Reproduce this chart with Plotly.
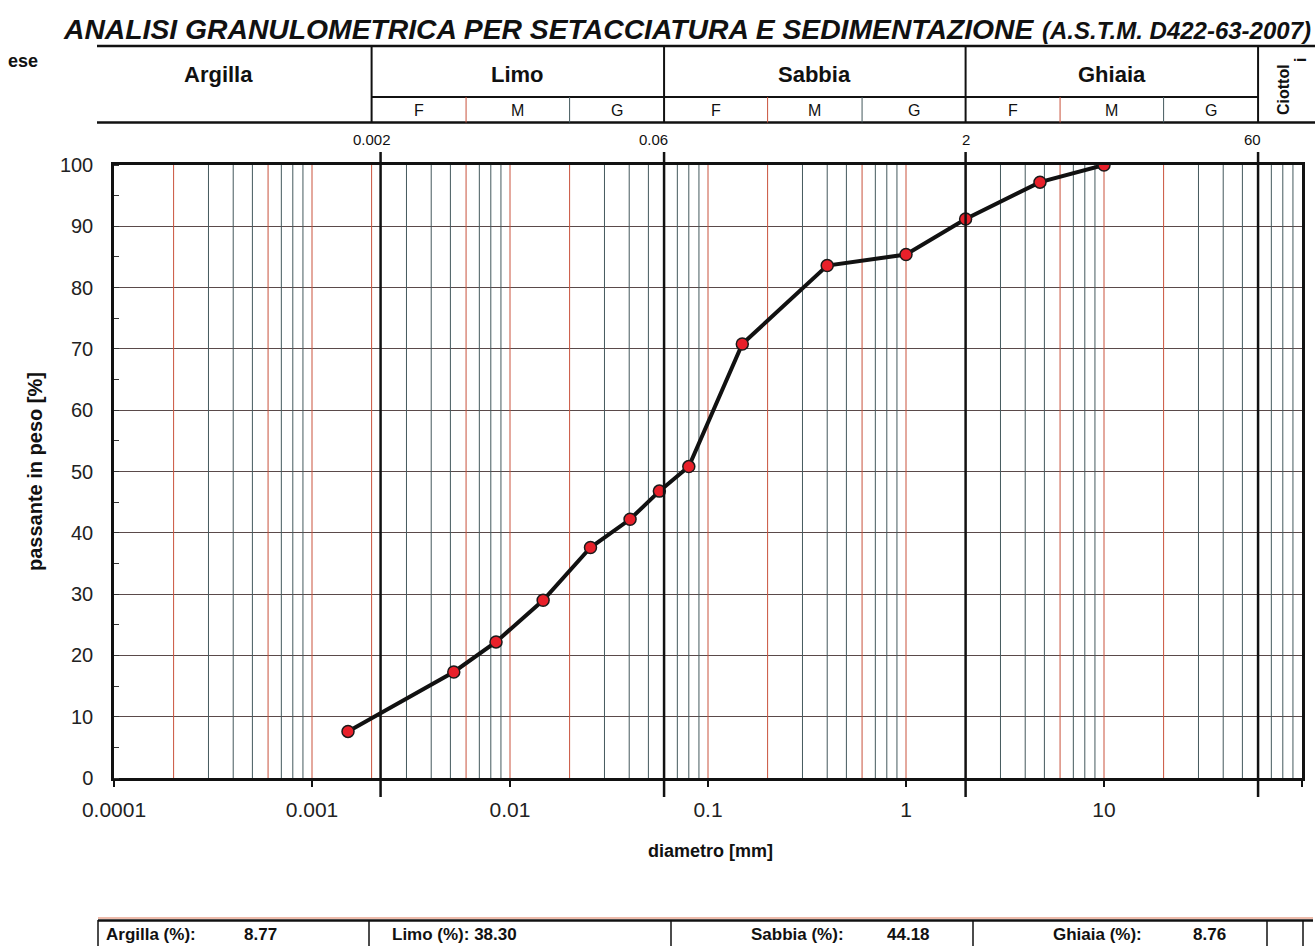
import math
import plotly.graph_objects as go

# ---------------- data ----------------
diam_mm = [0.00152, 0.0052, 0.0085, 0.0147, 0.0255, 0.0404, 0.0568, 0.080,
           0.149, 0.40, 1.0, 2.0, 4.75, 10.0]
passing_pct = [7.6, 17.3, 22.2, 29.0, 37.6, 42.2, 46.8, 50.8,
               70.8, 83.6, 85.4, 91.2, 97.2, 100.0]

x_tick_vals = [0.0001, 0.001, 0.01, 0.1, 1, 10, 100]
x_tick_text = ["0.0001", "0.001", "0.01", "0.1", "1", "10", "100"]
y_tick_vals = [0, 10, 20, 30, 40, 50, 60, 70, 80, 90, 100]

class_names = ["Argilla", "Limo", "Sabbia", "Ghiaia"]
class_limits = [0.002, 0.06, 2, 60]
class_limit_labels = ["0.002", "0.06", "2", "60"]
sub_limits = [0.006, 0.02, 0.2, 0.6, 6, 20]
sub_names = ["F", "M", "G"]
fraction_names = ["Argilla (%):", "Limo (%):", "Sabbia (%):", "Ghiaia (%):"]
fraction_values = ["8.77", "38.30", "44.18", "8.76"]

title_text = "ANALISI GRANULOMETRICA PER SETACCIATURA E SEDIMENTAZIONE"
norm_text = "(A.S.T.M. D422-63-2007)"

# ---------------- page geometry ----------------
W, H = 1315, 946
ML, MR, MT, MB = 114, 13, 165, 168
PW, PH = W - ML - MR, H - MT - MB


def px(x):
    return (x - ML) / PW


def py(y):
    return (H - MB - y) / PH


FONT = "Liberation Sans, Arial, Helvetica, sans-serif"
RED = "#c9523c"
SLATE = "#44595d"

fig = go.Figure()

# ---------------- thin vertical grid (log paper) ----------------
red_x, red_y, sl_x, sl_y = [], [], [], []
for k in range(-4, 2):
    for m in range(1, 10):
        v = m * 10 ** k
        if v <= 1e-4:
            continue
        if m in (1, 2, 6):
            red_x += [v, v, None]
            red_y += [0, 100, None]
        else:
            sl_x += [v, v, None]
            sl_y += [0, 100, None]
fig.add_trace(go.Scatter(x=red_x, y=red_y, mode="lines", hoverinfo="skip",
                         line=dict(color=RED, width=1), showlegend=False))
fig.add_trace(go.Scatter(x=sl_x, y=sl_y, mode="lines", hoverinfo="skip",
                         line=dict(color=SLATE, width=1), showlegend=False))

# ---------------- data curve ----------------
fig.add_trace(go.Scatter(
    x=diam_mm, y=passing_pct, mode="lines+markers", showlegend=False,
    line=dict(color="#111111", width=4),
    marker=dict(size=12, color="#e8202a", line=dict(color="#1a1a1a", width=1.5)),
))

shapes = []
ann = []


def note(x, y, text, size, xref="paper", xanchor="center", **kw):
    d = dict(x=x, y=y, xref=xref, yref="paper", text=text, showarrow=False,
             xanchor=xanchor, yanchor="middle", font=dict(size=size, color="#111"))
    d.update(kw)
    ann.append(d)


# thick class boundary lines through the plot
line_shift = [1.11, 1.0, 1.0, 1.0]
for v, f in zip(class_limits, line_shift):
    shapes.append(dict(type="line", xref="x", yref="paper", x0=v * f, x1=v * f,
                       y0=py(797), y1=py(152), line=dict(color="#111111", width=2.5)))
# boundary labels above the plot
label_shift = [0, -11, 0, -6]
for v, t, s in zip(class_limits, class_limit_labels, label_shift):
    note(math.log10(v), py(140), t, 15, xref="x", xshift=s)

# ---------------- header table ----------------
hl = dict(color="#111111", width=2.5)
shapes.append(dict(type="line", xref="paper", yref="paper", x0=px(97), x1=px(1325),
                   y0=py(46), y1=py(46), line=hl))
shapes.append(dict(type="line", xref="paper", yref="paper", x0=px(97), x1=px(1325),
                   y0=py(122.5), y1=py(122.5), line=hl))
shapes.append(dict(type="line", xref="x", yref="paper", x0=class_limits[0], x1=class_limits[-1],
                   y0=py(97), y1=py(97), line=dict(color="#111111", width=2)))
for v in class_limits:
    shapes.append(dict(type="line", xref="x", yref="paper", x0=v, x1=v,
                       y0=py(122.5), y1=py(46), line=dict(color="#111111", width=2)))
for i, v in enumerate(sub_limits):
    shapes.append(dict(type="line", xref="x", yref="paper", x0=v, x1=v,
                       y0=py(122.5), y1=py(97),
                       line=dict(color=RED if i % 2 == 0 else SLATE, width=1)))

# class names
note(px(218), py(74), "<b>Argilla</b>", 22)
for i in range(1, 4):
    lo, hi = class_limits[i - 1], class_limits[i]
    c = (math.log10(lo) + math.log10(hi)) / 2
    note(c, py(74), "<b>%s</b>" % class_names[i], 22, xref="x")
    bounds = [lo, sub_limits[2 * (i - 1)], sub_limits[2 * (i - 1) + 1], hi]
    for j, s in enumerate(sub_names):
        cc = (math.log10(bounds[j]) + math.log10(bounds[j + 1])) / 2
        note(cc, py(111), s, 16, xref="x")

note(px(1284), py(90), "<b>Ciottol</b>", 16, textangle=-90)
note(px(1300), py(60), "<b>i</b>", 16, textangle=-90)
note(px(40), py(61), "<b>ese</b>", 18, xanchor="right")

# title
note(px(61), py(29), "<b><i>%s</i></b>" % title_text, 28.3, xanchor="left")
note(px(1040), py(31), "<b><i>%s</i></b>" % norm_text, 24, xanchor="left")

# axis titles
note(px(35), py(472), "<b>passante in peso [%]</b>", 20, textangle=-90)
note(px(710), py(851), "<b>diametro [mm]</b>", 18)

# ---------------- bottom summary table ----------------
shapes.append(dict(type="line", xref="paper", yref="paper", x0=px(98), x1=px(1313),
                   y0=py(918), y1=py(918), line=dict(color="#e9a48f", width=1.5)))
shapes.append(dict(type="line", xref="paper", yref="paper", x0=px(98), x1=px(1313),
                   y0=py(920.5), y1=py(920.5), line=dict(color="#111111", width=2.5)))
for xv in [98, 369, 671, 973, 1267, 1303]:
    shapes.append(dict(type="line", xref="paper", yref="paper", x0=px(xv), x1=px(xv),
                       y0=py(920), y1=py(960), line=dict(color="#111111", width=1.5)))
name_pos = [104, 390, 749, 1051]
value_pos = [242, None, 885, 1191]
for n, v, xn, xv in zip(fraction_names, fraction_values, name_pos, value_pos):
    txt = n + " " + v if xv is None else n
    note(px(xn), py(934), "<b>%s</b>" % txt, 17, xanchor="left")
    if xv is not None:
        note(px(xv), py(934), "<b>%s</b>" % v, 17, xanchor="left")

fig.update_layout(
    width=W, height=H,
    margin=dict(l=ML, r=MR, t=MT, b=MB, autoexpand=False),
    paper_bgcolor="white", plot_bgcolor="white",
    font=dict(family=FONT, color="#111"),
    shapes=shapes, annotations=ann, showlegend=False,
    xaxis=dict(type="log", range=[-4, 2], showgrid=False, zeroline=False,
               tickvals=x_tick_vals, ticktext=x_tick_text, ticks="outside",
               ticklen=6, tickwidth=1.5, tickcolor="#111",
               tickfont=dict(size=21, color="#222"), ticklabelstandoff=5,
               showline=True, linewidth=2.5, linecolor="#111", mirror=True),
    yaxis=dict(range=[0, 100], tickvals=y_tick_vals, showgrid=True,
               gridcolor="#5a4a4a", gridwidth=1, zeroline=False, ticks="",
               tickfont=dict(size=20, color="#222"), ticklabelstandoff=14,
               minor=dict(dtick=5, tick0=0, ticks="inside", ticklen=5,
                          tickcolor="#333", showgrid=False),
               showline=True, linewidth=2.5, linecolor="#111", mirror=True),
)

fig.write_html("out.html")
